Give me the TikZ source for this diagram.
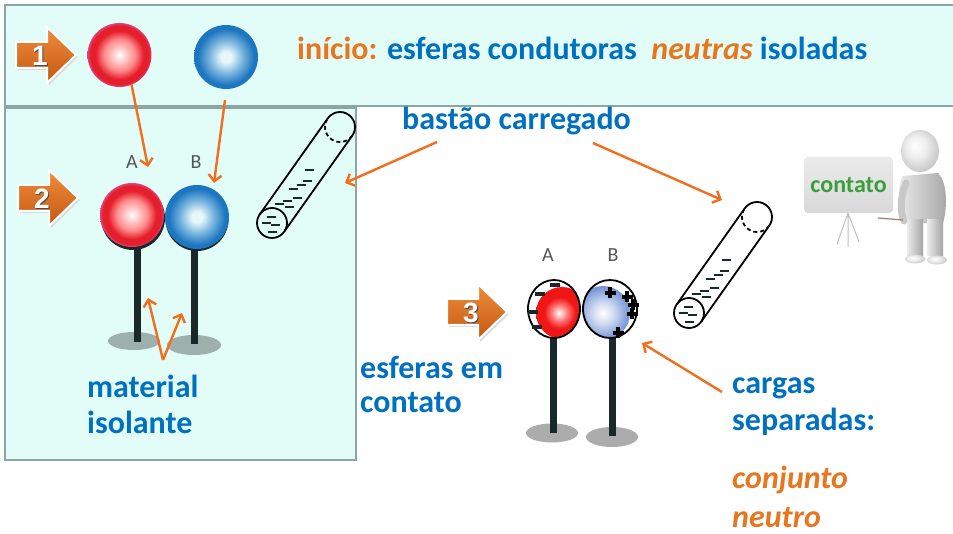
\documentclass[tikz,border=0pt]{standalone}
\usepackage{fontspec}
\setmainfont{Carlito}
\newfontfamily\digitfont{Liberation Sans}
\usetikzlibrary{arrows.meta,shapes.geometric}

% palette
\definecolor{boxfill}{RGB}{226,252,248}
\definecolor{boxline}{RGB}{140,165,165}
\definecolor{txtblue}{RGB}{0,112,192}
\definecolor{txtorange}{RGB}{232,118,30}
\definecolor{arrorange}{RGB}{242,110,28}
\definecolor{numtop}{RGB}{240,140,60}
\definecolor{numbot}{RGB}{196,88,18}
\definecolor{stemdark}{RGB}{25,40,40}
\definecolor{basegray}{RGB}{158,176,172}
\definecolor{basegrayb}{RGB}{172,172,172}
\definecolor{labelgray}{RGB}{85,85,85}
\definecolor{boardgreen}{RGB}{58,158,58}
\definecolor{sphred}{RGB}{228,30,42}
\definecolor{sphpink}{RGB}{222,70,130}
\definecolor{sphblue}{RGB}{28,118,192}
\definecolor{sphbluemid}{RGB}{120,180,222}
\definecolor{sphcore}{RGB}{232,248,250}
\definecolor{redthree}{RGB}{240,22,22}
\definecolor{bluethree}{RGB}{118,150,214}
\definecolor{figlight}{RGB}{236,236,236}
\definecolor{figmid}{RGB}{200,200,200}
\definecolor{figdark}{RGB}{165,165,165}

% sphere gradients
\pgfdeclareradialshading{redball}{\pgfpoint{0bp}{0bp}}{%
  color(0bp)=(white); color(3bp)=(white!88!red); color(12bp)=(red!45!white);
  color(19bp)=(sphred); color(23bp)=(sphred); color(25bp)=(sphpink); color(50bp)=(sphpink)}
\pgfdeclareradialshading{blueball}{\pgfpoint{0bp}{0bp}}{%
  color(0bp)=(sphcore); color(4bp)=(sphcore); color(13bp)=(sphbluemid);
  color(22bp)=(sphblue); color(25bp)=(sphblue); color(50bp)=(sphblue)}
\pgfdeclareradialshading{redthreeball}{\pgfpoint{-3bp}{0bp}}{%
  color(0bp)=(white); color(8bp)=(red!55!white); color(15bp)=(redthree); color(50bp)=(redthree)}
\pgfdeclareradialshading{bluethreeball}{\pgfpoint{0bp}{0bp}}{%
  color(0bp)=(white); color(10bp)=(bluethree!35!white); color(24bp)=(bluethree); color(50bp)=(bluethree)}
% pale matte ball for the presenter figure
\pgfdeclareradialshading{paleball}{\pgfpoint{-7bp}{7bp}}{%
  color(0bp)=(white); color(14bp)=(figlight); color(28bp)=(figmid); color(40bp)=(figdark); color(50bp)=(figdark)}

\tikzset{
  maintxt/.style={font=\bfseries\fontsize{32}{36}\selectfont, text=txtblue, inner sep=0pt, anchor=base west},
  orangetxt/.style={maintxt, text=txtorange, font=\bfseries\itshape\fontsize{32}{36}\selectfont},
  letterlbl/.style={font=\fontsize{20}{20}\selectfont, text=labelgray, inner sep=0pt},
  conn/.style={draw=arrorange, line width=2.4pt, -{Straight Barb[length=6.5pt,width=13pt]}},
  sphereA/.style={circle, minimum size=64pt, inner sep=0pt, shading=redball},
  sphereB/.style={circle, minimum size=64pt, inner sep=0pt, shading=blueball},
  stem/.style={fill=stemdark},
  numtxt/.style={font=\digitfont\bfseries\fontsize{28}{28}\selectfont, text=white, inner sep=0pt},
  rodline/.style={draw=black, line width=1.8pt},
  chargemark/.style={line width=3.2pt, stemdark},
  board/.style={rectangle, rounded corners=4pt, minimum width=89pt, minimum height=56pt,
    top color=gray!16, bottom color=gray!30, text=boardgreen,
    font=\bfseries\fontsize{24}{24}\selectfont, inner sep=0pt},
  figpart/.style={left color=figlight, right color=figdark},
  % charged rod, drawn from the centre of its lower end
  rod/.pic={
    \draw[rodline] (12.2,8.7) -- (80.2,-87.3);
    \draw[rodline] (-12.2,-8.7) -- (55.8,-104.7);
    \draw[rodline] (0,0) circle (15);
    \draw[rodline] (68,-96) ++(215.3:15) arc (215.3:395.3:15);
    \draw[rodline, dash pattern=on 4pt off 3pt] (68,-96) ++(35.3:15) arc (35.3:215.3:15);
    \foreach \dx/\dy in {37/-53, 35/-42, 29/-38, 21/-34, 25/-25, 15/-22, 7/-19, 17/-16,
                         -1/-6, -6/0, 3/2, 0/9}
      \draw[line width=2.8pt, stemdark] (\dx-4.5,\dy) -- (\dx+4.5,\dy);
  }
}

% orange step arrow with its number
\newcommand\numarrow[3]{%
  \begin{scope}[shift={#2}]
    \fill[gray!30] (2,-11) -- (33,-11) -- (33,-26) -- (62,2) -- (33,30) -- (33,15) -- (2,15) -- cycle;
    \draw[white, line width=2pt, line join=miter, top color=numtop, bottom color=numbot]
      (0,-13) -- (31,-13) -- (31,-28) -- (60,0) -- (31,28) -- (31,13) -- (0,13) -- cycle;
    \node[numtxt, text=black!70] at (25,2) {#3};
    \node[numtxt] (#1) at (24,1) {#3};
  \end{scope}}

\begin{document}
\begin{tikzpicture}[x=1pt, y=-1pt]
\useasboundingbox (0,0) rectangle (953,534);
\fill[white] (0,0) rectangle (953,534);

% panels
\draw[boxline, line width=2.5pt, fill=boxfill] (5,5) rectangle (960,106);
\draw[boxline, line width=2.5pt, fill=boxfill] (5,108) rectangle (356,460);

% step 1: neutral spheres
\numarrow{n1}{(16,55)}{1}
\node[sphereA] (s1a) at (119.5,55) {};
\node[sphereB] (s1b) at (226,57) {};
\node[maintxt] (title) at (297,60) {\textcolor{txtorange}{início:} esferas condutoras\ \ \textcolor{txtorange}{\itshape neutras} isoladas};

% step 2: spheres on insulating stands
\numarrow{n2}{(18,198)}{2}
\fill[basegray] (134,341) ellipse (26 and 9);
\fill[basegray] (194,345) ellipse (27 and 10);
\fill[stem] (134,240) rectangle (141,342);
\fill[stem] (191,240) rectangle (198,344);
\fill[stemdark] (133,218) circle (32);
\fill[stemdark] (197,219.5) circle (31.5);
\node[sphereA] (s2a) at (132,215) {};
\node[sphereB] (s2b) at (197,217) {};
\node[letterlbl] (la2) at (132,162) {A};
\node[letterlbl] (lb2) at (196,162) {B};
\pic (rodone) at (272,223) {rod};

\node[maintxt] (mat1) at (87,397) {material};
\node[maintxt] (mat2) at (87,433) {isolante};

% step 3: spheres in contact
\numarrow{n3}{(447,312)}{3}
\fill[basegrayb] (552,433) ellipse (26 and 9.5);
\fill[basegrayb] (612,437) ellipse (26 and 10);
\fill[stem] (550,330) rectangle (557,433);
\fill[stem] (609,330) rectangle (616,436);
\node[letterlbl] (la3) at (548,255) {A};
\node[letterlbl] (lb3) at (613,255) {B};
\begin{scope}
  \clip (554,309) ellipse (26 and 29);
  \fill[white] (554,309) ellipse (26 and 29);
  \shade[shading=redthreeball] (562,313) circle (26);
\end{scope}
\begin{scope}
  \clip (610,309) ellipse (27 and 29);
  \fill[white] (610,309) ellipse (27 and 29);
  \shade[shading=bluethreeball] (603,313) circle (27);
\end{scope}
\node[draw, line width=1.8pt, ellipse, minimum width=52pt, minimum height=58pt, inner sep=0pt] (s3a) at (554,309) {};
\node[draw, line width=1.8pt, ellipse, minimum width=54pt, minimum height=58pt, inner sep=0pt] (s3b) at (610,309) {};
\foreach \mx/\my in {555/285, 540/294, 533/312, 537/327}
  \draw[chargemark] (\mx-5,\my) -- (\mx+5,\my);
\foreach \px/\py in {610/293, 627/297, 633/305, 632/314, 618/333}
  \draw[chargemark, black] (\px-5.5,\py) -- (\px+5.5,\py) (\px,\py-5.5) -- (\px,\py+5.5);
\pic (rodtwo) at (689,313) {rod};

\node[maintxt] (esf1) at (360,378) {esferas em};
\node[maintxt] (esf2) at (360,413) {contato};
\node[maintxt] (carg1) at (732,393) {cargas};
\node[maintxt] (carg2) at (732,430) {separadas:};
\node[orangetxt] (conj1) at (732,488) {conjunto};
\node[orangetxt] (conj2) at (732,527) {neutro};

\node[maintxt] (rodlabel) at (402,130) {bastão carregado};

% presenter with board
\draw[gray!50, line width=1pt] (848,213) -- (837,244) (848,213) -- (848,247) (848,213) -- (859,242);
\node[board] (board) at (848.5,185) {contato};
\shade[figpart] (903,176) .. controls (897,184) and (898,205) .. (904,223)
  -- (943,223) .. controls (948,205) and (947,182) .. (938,173) -- cycle;
\shade[figpart] (907,220) rectangle (923,256);
\shade[figpart] (927,220) rectangle (943,256);
\shade[shading=paleball] (915,259) ellipse (10 and 4.5);
\shade[shading=paleball] (937,260) ellipse (10 and 4.5);
\draw[figmid, line width=7pt, line cap=round] (906,183) .. controls (900,198) and (900,212) .. (904,221);
\draw[gray!60!brown, line width=1.2pt] (878,218) -- (903,220);
\shade[shading=paleball] (920,151) ellipse (19 and 21);

% connectors
\coordinate (tipA) at (148,167);
\coordinate (tipB) at (214,183);
\coordinate (fromB) at (225,100);
\draw[conn] (s1a.-68) -- (tipA);
\draw[conn] (fromB) -- (tipB);

\coordinate (rl1) at (437,142);
\coordinate (rl2) at (593,143);
\coordinate (rodonetip) at (345,183);
\coordinate (rodtwotip) at (722,200);
\draw[conn] (rl1) -- (rodonetip);
\draw[conn] (rl2) -- (rodtwotip);

\coordinate (matfork) at (163,360);
\coordinate (stemAt) at (148,298);
\coordinate (stemBt) at (182,313);
\draw[conn] (matfork) -- (stemAt);
\draw[conn] (matfork) -- (stemBt);

\coordinate (cargstart) at (722,392);
\coordinate (cargtip) at (642,343);
\draw[conn] (cargstart) -- (cargtip);
\end{tikzpicture}
\end{document}
